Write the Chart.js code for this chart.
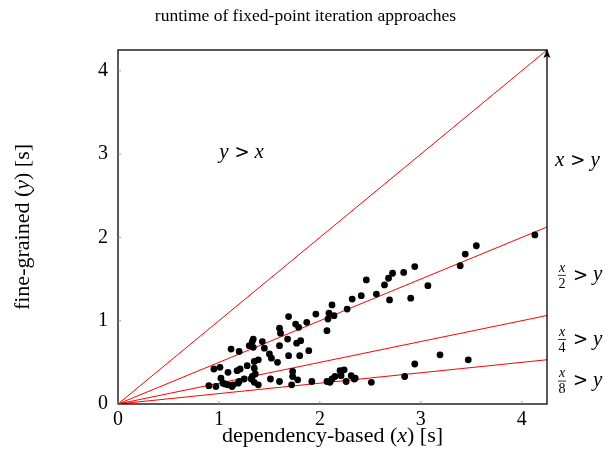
<!DOCTYPE html>
<html>
<head>
<meta charset="utf-8">
<script src="https://cdn.jsdelivr.net/npm/chart.js@4"></script>
<style>
  body { margin: 0; background: #fff; }
  #wrap { width: 610px; height: 474px; }
</style>
</head>
<body>
<div id="wrap"><canvas id="chart"></canvas></div>
<script>
// measured runtimes (seconds)
const xValues = [2.46, 2.32, 2.41, 2.12, 2.09, 2.14, 2.27, 1.96, 2.08, 2.07,
  1.87, 1.69, 1.76, 1.79, 1.60, 1.61, 1.68, 1.81, 1.77, 1.60,
  1.89, 1.80, 1.69, 1.58, 1.52, 1.50, 1.45, 1.43, 1.34, 1.33,
  1.30, 1.34, 1.20, 1.12, 1.39, 1.35, 1.35, 1.28, 1.21, 1.18,
  1.09, 1.01, 0.95, 1.36, 1.33, 1.25, 1.20, 1.19, 1.14, 1.09,
  1.06, 1.02, 1.04, 0.97, 0.90, 1.13, 1.32, 1.35, 1.39, 1.51,
  1.60, 1.73, 1.73, 1.72, 1.78, 1.92, 2.07, 2.10, 2.12, 2.15,
  2.20, 2.24, 2.21, 2.26, 2.31, 2.34, 4.13, 3.55, 3.44, 3.39,
  2.94, 2.83, 2.72, 2.68, 2.64, 3.07, 2.56, 2.69, 2.90, 3.19,
  3.47, 2.94, 2.84, 2.51, 2.35];
const yValues = [1.49, 1.26, 1.30, 1.19, 1.09, 1.06, 1.14, 1.08, 1.02, 0.88,
  0.98, 1.05, 0.96, 0.92, 0.91, 0.85, 0.78, 0.76, 0.73, 0.70,
  0.64, 0.58, 0.58, 0.50, 0.55, 0.60, 0.67, 0.75, 0.78, 0.75,
  0.70, 0.68, 0.63, 0.66, 0.53, 0.51, 0.43, 0.46, 0.42, 0.40,
  0.38, 0.44, 0.42, 0.36, 0.33, 0.30, 0.27, 0.25, 0.23, 0.23,
  0.24, 0.31, 0.25, 0.21, 0.22, 0.21, 0.30, 0.26, 0.23, 0.30,
  0.27, 0.39, 0.33, 0.23, 0.29, 0.27, 0.27, 0.26, 0.30, 0.33,
  0.40, 0.41, 0.34, 0.27, 0.34, 0.30, 2.03, 1.90, 1.80, 1.66,
  1.65, 1.58, 1.57, 1.51, 1.43, 1.42, 1.32, 1.25, 1.27, 0.59,
  0.53, 0.48, 0.33, 0.26, 0.31];

// reference lines y = slope * x
const slopes = [1, 1 / 2, 1 / 4, 1 / 8];
const axisMax = 4.25;
const tickValues = [0, 1, 2, 3, 4];

// region labels: [denominator (null = plain x), y position in data units]
const regionLabels = [[null, 2.92], [2, 1.55], [4, 0.78], [8, 0.28]];
const innerLabel = { x: 1.2, y: 3.02 };

const SERIF = '"Liberation Serif", "DejaVu Serif", serif';
const ITAL = "italic 21px " + SERIF;
const REL = '18px "DejaVu Serif", serif';

const points = xValues.map((x, i) => ({ x: x, y: yValues[i] }));

const lineSets = slopes.map(s => ({
  data: [{ x: 0, y: 0 }, { x: axisMax, y: axisMax * s }],
  showLine: true,
  borderColor: "#ff0000",
  borderWidth: 1,
  pointRadius: 0,
  order: 2
}));

// draw a run of text pieces, some italic, centred on x
function drawRich(ctx, parts, x, y, size) {
  let total = 0;
  parts.forEach(p => {
    ctx.font = (p.i ? "italic " : "") + size + "px " + SERIF;
    total += ctx.measureText(p.t).width;
  });
  let cx = x - total / 2;
  parts.forEach(p => {
    ctx.font = (p.i ? "italic " : "") + size + "px " + SERIF;
    ctx.fillText(p.t, cx, y);
    cx += ctx.measureText(p.t).width;
  });
}

// "a > b" with TeX-like spacing, starting at x
function drawRel(ctx, left, right, x, y) {
  ctx.font = ITAL;
  ctx.fillText(left, x, y);
  x += ctx.measureText(left).width + 6;
  ctx.font = REL;
  ctx.fillText(">", x, y + 1);
  x += ctx.measureText(">").width + 5;
  ctx.font = ITAL;
  ctx.fillText(right, x, y);
}

const decor = {
  id: "decor",
  afterDraw(chart) {
    const ctx = chart.ctx;
    const a = chart.chartArea;
    const xs = chart.scales.x;
    const ys = chart.scales.y;
    ctx.save();

    // frame
    ctx.strokeStyle = "#000";
    ctx.lineWidth = 1.3;
    ctx.strokeRect(a.left, a.top, a.right - a.left, a.bottom - a.top);

    // arrow head on the right side
    ctx.fillStyle = "#000";
    ctx.beginPath();
    ctx.moveTo(a.right, a.top - 1);
    ctx.lineTo(a.right - 3.5, a.top + 8);
    ctx.lineTo(a.right, a.top + 6);
    ctx.lineTo(a.right + 3.5, a.top + 8);
    ctx.closePath();
    ctx.fill();

    // small inward ticks
    ctx.strokeStyle = "#888";
    ctx.lineWidth = 0.8;
    tickValues.forEach(v => {
      const px = xs.getPixelForValue(v);
      ctx.beginPath();
      ctx.moveTo(px, a.bottom);
      ctx.lineTo(px, a.bottom - 3);
      ctx.stroke();
      const py = ys.getPixelForValue(v);
      ctx.beginPath();
      ctx.moveTo(a.left, py);
      ctx.lineTo(a.left + 3, py);
      ctx.stroke();
    });

    ctx.fillStyle = "#000";
    ctx.textBaseline = "middle";

    // title
    ctx.font = "17.5px " + SERIF;
    ctx.textAlign = "center";
    ctx.fillText("runtime of fixed-point iteration approaches", (a.left + a.right) / 2 - 27, 16);
    ctx.textAlign = "left";

    // axis titles
    ctx.textBaseline = "alphabetic";
    drawRich(ctx, [{ t: "dependency-based (" }, { t: "x", i: true }, { t: ") [s]" }],
      (a.left + a.right) / 2, 442, 22);
    ctx.save();
    ctx.translate(29, (a.top + a.bottom) / 2);
    ctx.rotate(-Math.PI / 2);
    drawRich(ctx, [{ t: "fine-grained (" }, { t: "y", i: true }, { t: ") [s]" }], 0, 0, 22);
    ctx.restore();
    ctx.textBaseline = "middle";

    // y > x inside the plot
    drawRel(ctx, "y", "x", xs.getPixelForValue(innerLabel.x) - 20, ys.getPixelForValue(innerLabel.y));

    // labels on the right
    regionLabels.forEach(([den, v]) => {
      const py = ys.getPixelForValue(v);
      if (den === null) {
        drawRel(ctx, "x", "y", a.right + 8, py);
        return;
      }
      const lx = a.right + 11;
      ctx.textAlign = "center";
      ctx.font = "italic 14px " + SERIF;
      ctx.fillText("x", lx + 4, py - 7);
      ctx.font = "14px " + SERIF;
      ctx.fillText(String(den), lx + 4, py + 9);
      ctx.fillRect(lx, py, 8, 0.8);
      ctx.textAlign = "left";
      ctx.font = REL;
      ctx.fillText(">", lx + 15, py + 1);
      const gx = lx + 15 + ctx.measureText(">").width + 5;
      ctx.font = ITAL;
      ctx.fillText("y", gx, py);
    });

    ctx.restore();
  }
};

new Chart(document.getElementById("chart"), {
  type: "scatter",
  data: {
    datasets: [{
      data: points,
      backgroundColor: "#000",
      borderColor: "#000",
      pointRadius: 3.4,
      borderWidth: 0,
      order: 1
    }].concat(lineSets)
  },
  options: {
    responsive: true,
    maintainAspectRatio: false,
    animation: false,
    layout: { padding: { top: 50, right: 63, bottom: 0, left: 0 } },
    plugins: { legend: { display: false }, tooltip: { enabled: false } },
    scales: {
      x: {
        type: "linear",
        min: 0,
        max: axisMax,
        afterFit: s => { s.height = 70; },
        grid: { display: false, drawTicks: false },
        border: { display: false },
        ticks: {
          stepSize: 1,
          includeBounds: false,
          padding: 4,
          color: "#000",
          font: { family: SERIF, size: 20 }
        }
      },
      y: {
        type: "linear",
        min: 0,
        max: axisMax,
        afterFit: s => { s.width = 118; },
        grid: { display: false, drawTicks: false },
        border: { display: false },
        ticks: {
          stepSize: 1,
          includeBounds: false,
          padding: 10,
          color: "#000",
          font: { family: SERIF, size: 20 }
        }
      }
    }
  },
  plugins: [decor]
});
</script>
</body>
</html>
